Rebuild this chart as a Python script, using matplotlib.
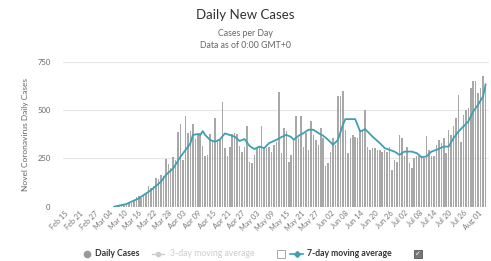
#!/usr/bin/env python3
"""Daily new cases with 7-day moving average (Highcharts-style recreation)."""

import matplotlib
matplotlib.use("Agg")
import matplotlib.pyplot as plt
from matplotlib.lines import Line2D
from matplotlib.patches import Rectangle

# daily cases, one value per day starting Feb 15
daily_cases = (
    [0] * 20
    + [1, 2, 3, 5, 8, 12, 18, 20, 30, 50, 55, 45, 60, 68, 105, 95, 108, 150,
       145, 165, 160, 245, 220, 200, 255, 240]
    + [388, 430, 240, 470, 380, 390, 430, 350, 372, 383, 313, 260, 265, 375,
       337, 457, 345, 350, 543, 305, 260, 310, 375, 383, 375, 313]
    + [285, 311, 418, 233, 225, 268, 303, 311, 418, 311, 303, 311, 285, 320,
       337, 592, 277, 407, 389, 233, 268, 346, 467, 355, 470, 311, 380, 294,
       441, 372, 346, 320, 407, 355, 208, 225, 285, 355, 320, 571, 571, 597,
       398, 277, 355, 372, 363, 355, 389, 389, 502, 311, 294, 303, 303, 294,
       294, 285, 294, 285, 311, 190, 242, 233, 372, 355, 260, 311, 225, 199,
       251, 260, 260, 260, 251, 367, 294, 260, 260, 320, 346, 329, 355, 277,
       398, 372, 415, 458, 580, 337, 476, 502, 510, 614, 649, 649, 588, 614,
       675, 640]
)
assert len(daily_cases) == 172

# 7-day moving average (day index, value)
ma_days = [20, 25, 30, 35, 39, 41, 44, 47, 49, 51, 52, 54, 55, 56, 57, 59,
           61, 63, 65, 67, 69, 71, 73, 75, 77, 79, 81, 83, 86, 88, 90, 92,
           93, 95, 97, 99, 101, 103, 105, 107, 109, 111, 113, 114, 118, 120,
           122, 123, 125, 128, 130, 132, 134, 136, 138, 141, 143, 145, 147,
           149, 151, 154, 156, 158, 160, 162, 164, 166, 168, 170, 171]
ma_values = [0, 14, 43, 86, 129, 164, 198, 259, 293, 328, 371, 376, 371, 391,
             371, 345, 336, 348, 379, 371, 362, 340, 350, 315, 298, 311, 303,
             329, 346, 360, 372, 360, 346, 367, 381, 398, 398, 381, 367, 346,
             320, 346, 424, 453, 453, 389, 401, 389, 363, 329, 303, 294, 285,
             268, 285, 285, 277, 256, 260, 285, 294, 311, 311, 355, 389, 415,
             441, 493, 528, 571, 631]

tick_days = list(range(0, 169, 6))
tick_labels = ["Feb 15", "Feb 21", "Feb 27", "Mar 04", "Mar 10", "Mar 16",
               "Mar 22", "Mar 28", "Apr 03", "Apr 09", "Apr 15", "Apr 21",
               "Apr 27", "May 03", "May 09", "May 15", "May 21", "May 27",
               "Jun 02", "Jun 08", "Jun 14", "Jun 20", "Jun 26", "Jul 02",
               "Jul 08", "Jul 14", "Jul 20", "Jul 26", "Aug 01"]
y_ticks = [0, 250, 500, 750]

BAR = "#a8a8a8"
LINE = "#3f9fb3"
TEXT = "#333333"
AXIS = "#666666"

plt.rcParams["font.family"] = ["Lato", "DejaVu Sans"]

fig = plt.figure(figsize=(4.91, 2.61), dpi=100)
W, H = 491, 261
ax = fig.add_axes((63 / W, 1 - 206.7 / H, 426 / W, 145 / H))

days = list(range(len(daily_cases)))
ax.bar(days, daily_cases, width=0.62, color=BAR, zorder=2)
ax.plot(ma_days, ma_values, color=LINE, lw=1.3, zorder=3)

ax.set_xlim(-0.8, 172.4)
ax.set_ylim(0, 750)
ax.set_yticks(y_ticks)
ax.set_yticklabels([str(v) for v in y_ticks], fontsize=5.5, color=AXIS)
ax.set_xticks(tick_days)
ax.set_xticklabels(tick_labels, rotation=45, ha="right", rotation_mode="anchor",
                   fontsize=5.3, color="#777777")
ax.tick_params(axis="both", length=0, pad=2)
ax.tick_params(axis="y", pad=9)
ax.grid(axis="y", color="#e6e6e6", lw=0.8, zorder=0)
for s in ax.spines.values():
    s.set_visible(False)
ax.set_ylabel("Novel Coronavirus Daily Cases", fontsize=6, color=AXIS, labelpad=6)

fig.text(0.5, 1 - 15 / H, "Daily New Cases", ha="center", va="center",
         fontsize=9.5, color=TEXT)
fig.text(0.5, 1 - 34 / H, "Cases per Day", ha="center", va="center",
         fontsize=6.3, color=AXIS)
fig.text(0.5, 1 - 45 / H, "Data as of 0:00 GMT+0", ha="center", va="center",
         fontsize=6.3, color=AXIS)

# legend drawn by hand to mimic the Highcharts legend with checkboxes
ly = 1 - 254 / H
fig.add_artist(Line2D([87 / W], [ly], marker="o", markersize=4.5,
                      color="#999999", transform=fig.transFigure))
fig.text(95 / W, ly, "Daily Cases", ha="left", va="center", fontsize=6.2,
         fontweight="bold", color=TEXT)
fig.add_artist(Line2D([152 / W, 164 / W], [ly, ly], lw=1, color="#cccccc",
                      transform=fig.transFigure))
fig.add_artist(Line2D([158 / W], [ly], marker="o", markersize=3, color="#cccccc",
                      transform=fig.transFigure))
fig.text(170 / W, ly, "3-day moving average", ha="left", va="center",
         fontsize=6.2, color="#cccccc")
fig.add_artist(Rectangle((277 / W, ly - 4 / H), 8 / W, 8 / H, fill=False,
                         ec="#999999", lw=0.6, transform=fig.transFigure))
fig.add_artist(Line2D([290 / W, 303 / W], [ly, ly], lw=1.2, color=LINE,
                      transform=fig.transFigure))
fig.add_artist(Line2D([296.5 / W], [ly], marker="D", markersize=3, color=LINE,
                      transform=fig.transFigure))
fig.text(307 / W, ly, "7-day moving average", ha="left", va="center",
         fontsize=6.2, fontweight="bold", color=TEXT)
fig.add_artist(Rectangle((414 / W, ly - 4 / H), 8 / W, 8 / H, fc="#777777",
                         ec="#555555", lw=0.6, transform=fig.transFigure))
fig.text(418 / W, ly, "\u2713", ha="center", va="center", fontsize=5,
         color="white", family="DejaVu Sans")

fig.savefig("out.png", dpi=100, facecolor="white")
